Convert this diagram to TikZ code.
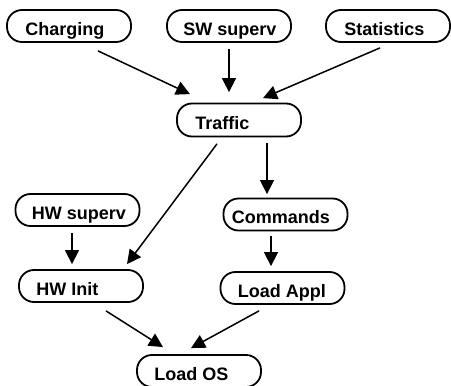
\documentclass[tikz,border=0pt]{standalone}
\usepackage{fontspec}
\setmainfont{Liberation Sans}
\usetikzlibrary{arrows.meta,calc}

\begin{document}
\begin{tikzpicture}[x=1pt,y=-1pt,
  box/.style={draw, line width=1.8pt, rounded corners=15pt,
    minimum width=124pt, minimum height=32pt, inner sep=0pt},
  tag/.style={anchor=base west, yshift=-9pt, inner sep=0pt,
    font=\fontsize{18pt}{20pt}\selectfont\bfseries},
  arrow/.style={line width=1.5pt, -{Triangle[length=14pt,width=14pt]}}]
  \useasboundingbox (0,0) rectangle (451,386);

  % processes
  \node[box, label={[tag, xshift=19pt]west:Charging}]   (charging) at (69,26)   {};
  \node[box, label={[tag, xshift=17pt]west:SW superv}]  (swsup)    at (229,26)  {};
  \node[box, label={[tag, xshift=19pt]west:Statistics}] (stats)    at (388,26)  {};
  \node[box, minimum height=33pt, label={[tag, xshift=19pt]west:Traffic}] (traffic) at (239,120) {};
  \node[box, label={[tag, xshift=17pt]west:HW superv}]  (hwsup)    at (77.5,210) {};
  \node[box, label={[tag, xshift=9pt]west:Commands}]    (commands) at (285.5,214.5) {};
  \node[box, label={[tag, xshift=18pt]west:HW Init}]    (hwinit)   at (81,286)  {};
  \node[box, label={[tag, xshift=18pt]west:Load Appl}]  (loadappl) at (282.5,288) {};
  \node[box, label={[tag, xshift=18pt]west:Load OS}]    (loados)   at (199,371) {};

  % dependencies
  \draw[arrow] ($(charging.south)+(29,8)$) -- ($(traffic.north)+(-49,-8.5)$);
  \draw[arrow] ($(swsup.south)+(0,6)$)     -- ($(traffic.north)+(-10,-10.5)$);
  \draw[arrow] ($(stats.south)+(-8,5)$)    -- ($(traffic.north)+(24,-4.5)$);
  \draw[arrow] ($(traffic.south)+(-22,6.5)$) -- ($(hwinit.north)+(46,-5)$);
  \draw[arrow] ($(traffic.south)+(28,5.5)$)  -- ($(commands.north)+(-18.5,-3.5)$);
  \draw[arrow] ($(hwsup.south)+(-5.5,6)$)    -- ($(hwinit.north)+(-9,-5)$);
  \draw[arrow] ($(commands.south)+(-14.5,4.5)$) -- ($(loadappl.north)+(-11.5,-5)$);
  \draw[arrow] ($(hwinit.south)+(25,8)$)     -- ($(loados.north)+(-36,-7)$);
  \draw[arrow] ($(loadappl.south)+(-23.5,6)$) -- ($(loados.north)+(-8,-6)$);
\end{tikzpicture}
\end{document}
